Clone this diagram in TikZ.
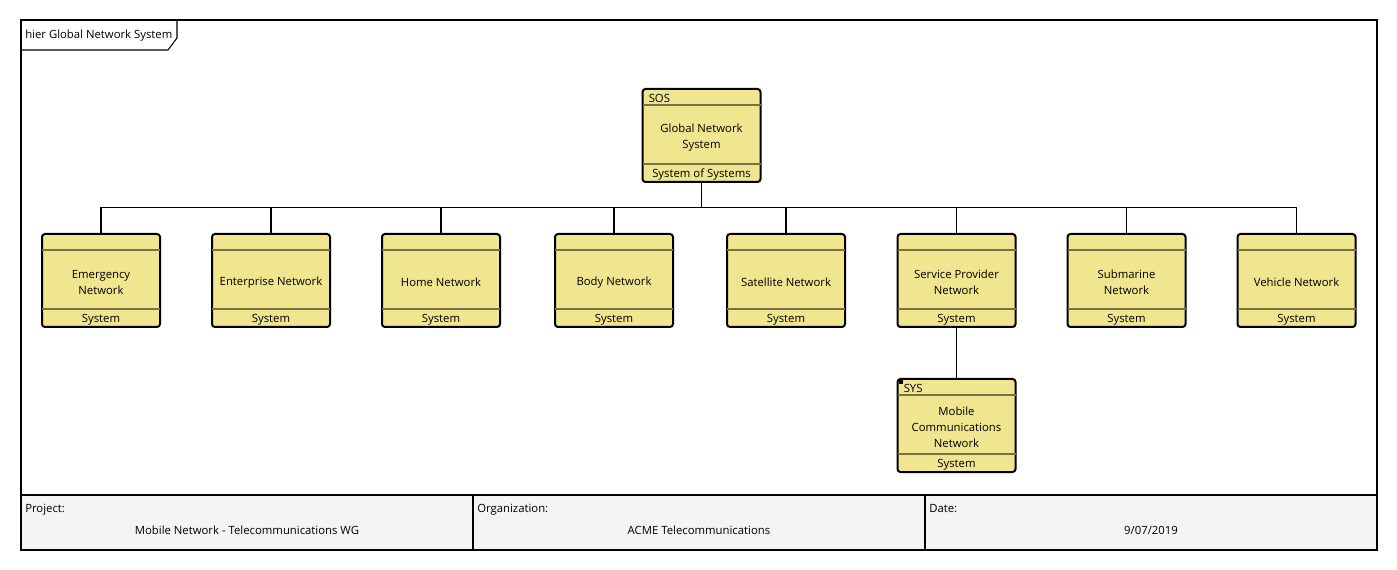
\documentclass[tikz,border=0pt]{standalone}
\usepackage{fontspec}
\setmainfont{Open Sans}
\begin{document}
\begin{tikzpicture}[x=0.75pt,y=-0.75pt,
  font=\fontsize{8.5}{12}\selectfont,
  blk/.style={draw=black,line width=1.5pt,fill=blkfill,rounded corners=2.2pt,minimum width=88.5pt,minimum height=69.75pt,inner sep=0pt,outer sep=0pt},
  sep/.style={draw=sepcol,line width=1.1pt},
  conn/.style={draw=black,line width=0.8pt},
  frm/.style={draw=black,line width=1.5pt},
  lbl/.style={inner sep=0pt,align=center}]
\definecolor{blkfill}{HTML}{F0E68F}
\definecolor{sepcol}{HTML}{7A7045}
\definecolor{tbfill}{HTML}{F4F4F4}
\useasboundingbox (0,0) rectangle (1397,570);
\newcommand{\blk}[6]{%
  \node[blk,anchor=north] (#1) at (#2,#3) {};
  \draw[sep] ([yshift=-12pt]#1.north west) -- ([yshift=-12pt]#1.north east);
  \draw[sep] ([yshift=13.5pt]#1.south west) -- ([yshift=13.5pt]#1.south east);
  \node[lbl,anchor=base west] (#1-st) at ([xshift=4.5pt,yshift=-10.3pt]#1.north west) {#4};
  \node[lbl] (#1-nm) at ([yshift=-1.2pt]#1.center) {#5};
  \node[lbl,anchor=base] (#1-kd) at ([yshift=3.2pt]#1.south) {#6};
}
% frame
\draw[frm,fill=white] (21,20) rectangle (1377,550);
\fill[tbfill] (21,495) rectangle (1377,550);
\draw[frm] (21,495) -- (1377,495);
\draw[frm] (473,495) -- (473,550);
\draw[frm] (925,495) -- (925,550);
\draw[frm] (21,20) rectangle (1377,550);
% tab
\draw[line width=0.8pt] (21,50) -- (168,50) -- (177,38) -- (177,20);
\node[lbl,anchor=base west] (tab) at (25,38.5) {hier Global Network System};
% blocks
\blk{gns}{701.5}{89}{SOS}{Global Network\\System}{System of Systems}
\blk{em}{101}{234}{}{Emergency\\Network}{System}
\blk{en}{271}{234}{}{Enterprise Network}{System}
\blk{ho}{441}{234}{}{Home Network}{System}
\blk{bo}{614}{234}{}{Body Network}{System}
\blk{sa}{786}{234}{}{Satellite Network}{System}
\blk{sp}{956.5}{234}{}{Service Provider\\Network}{System}
\blk{su}{1126.5}{234}{}{Submarine\\Network}{System}
\blk{ve}{1296.5}{234}{}{Vehicle Network}{System}
\blk{mc}{956.5}{379}{SYS}{Mobile\\Communications\\Network}{System}
\fill[black] ([xshift=0.9pt,yshift=-0.9pt]mc.north west) rectangle ++(4,4);
% connectors
\coordinate (bus) at (701.5,207.5);
\draw[conn] (gns.south) -- (bus);
\foreach \n in {em,en,ho,bo,sa,sp,su,ve}{
  \draw[conn] (\n.north) |- (bus);
}
\draw[conn] (sp.south) -- (mc.north);
% title block text
\node[lbl,anchor=base west] (pj) at (25,512) {Project:};
\node[lbl,anchor=base] (pjv) at (247,534.5) {Mobile Network - Telecommunications WG};
\node[lbl,anchor=base west] (og) at (477,512) {Organization:};
\node[lbl,anchor=base] (ogv) at (699,534.5) {ACME Telecommunications};
\node[lbl,anchor=base west] (dt) at (929,512) {Date:};
\node[lbl,anchor=base] (dtv) at (1151,534.5) {9/07/2019};
\end{tikzpicture}
\end{document}
